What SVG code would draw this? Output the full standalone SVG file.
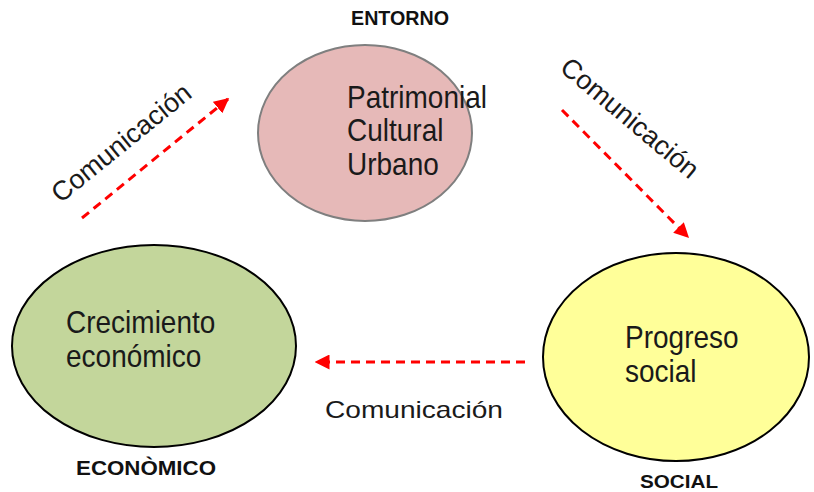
<svg xmlns="http://www.w3.org/2000/svg" width="814" height="492" viewBox="0 0 814 492">
<style>
.lbl{font-family:"Liberation Sans",Arial,sans-serif;font-size:28px;fill:#1a1a1a}
.cap{font-family:"Liberation Sans",Arial,sans-serif;font-size:17px;font-weight:bold;fill:#111}
.com{font-family:"Liberation Sans",Arial,sans-serif;font-size:27px;fill:#1a1a1a}
.arr{stroke:#ff0000;stroke-width:3;stroke-dasharray:9,6;fill:none}
</style>
<defs>
<marker id="ah" viewBox="0 0 10 10" refX="9" refY="5" markerWidth="5" markerHeight="5" orient="auto" markerUnits="strokeWidth">
<path d="M0,0 L10,5 L0,10 z" fill="#ff0000"/>
</marker>
</defs>
<rect width="814" height="492" fill="#ffffff"/>
<g id="node-patrimonial">
<ellipse cx="365" cy="133" rx="107" ry="88" fill="#e6b9b8" stroke="#7f7f7f" stroke-width="2"/>
<text class="lbl" transform="translate(347,108) scale(1,1.12)">Patrimonial</text>
<text class="lbl" transform="translate(347,141) scale(1,1.12)">Cultural</text>
<text class="lbl" transform="translate(347,175) scale(1,1.12)">Urbano</text>
<text class="cap" transform="translate(400,25) scale(1,1.15)" text-anchor="middle" textLength="98" lengthAdjust="spacingAndGlyphs">ENTORNO</text>
</g>
<g id="node-crecimiento">
<ellipse cx="154" cy="346" rx="142" ry="101" fill="#c3d69b" stroke="#000" stroke-width="2"/>
<text class="lbl" transform="translate(66,333) scale(1,1.12)">Crecimiento</text>
<text class="lbl" transform="translate(66,367) scale(1,1.12)">económico</text>
<text class="cap" transform="translate(146,475) scale(1,1.15)" text-anchor="middle" textLength="140" lengthAdjust="spacingAndGlyphs">ECONÒMICO</text>
</g>
<g id="node-progreso">
<ellipse cx="676" cy="357" rx="133" ry="104" fill="#ffff99" stroke="#000" stroke-width="2"/>
<text class="lbl" transform="translate(625,348) scale(1,1.12)">Progreso</text>
<text class="lbl" transform="translate(625,382) scale(1,1.12)">social</text>
<text class="cap" transform="translate(679,488) scale(1,1.1)" text-anchor="middle" textLength="78" lengthAdjust="spacingAndGlyphs">SOCIAL</text>
</g>
<g id="connectors">
<line class="arr" x1="82" y1="218" x2="228" y2="99" marker-end="url(#ah)"/>
<line class="arr" x1="562" y1="110" x2="688" y2="237" marker-end="url(#ah)"/>
<line class="arr" x1="525" y1="362" x2="316" y2="362" marker-end="url(#ah)"/>
<text class="com" transform="translate(127,150) rotate(-39)" text-anchor="middle">Comunicación</text>
<text class="com" transform="translate(624,125) rotate(40)" text-anchor="middle">Comunicación</text>
<text class="com" x="325" y="418" font-size="24" textLength="178" lengthAdjust="spacingAndGlyphs" style="font-size:24px">Comunicación</text>
</g>
</svg>
